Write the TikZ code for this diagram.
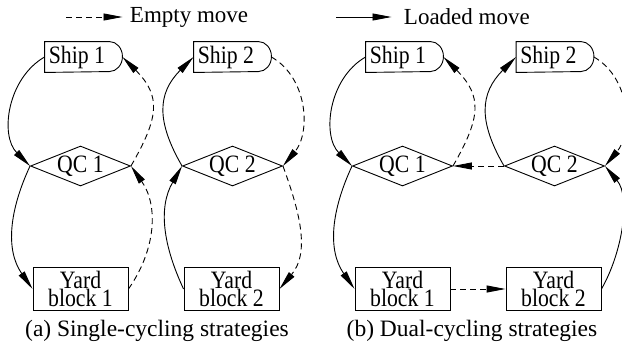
\documentclass[tikz,border=0pt]{standalone}
\usepackage{fontspec}
\setmainfont{Liberation Serif}
\newfontfamily\condfont[FakeStretch=0.87]{Liberation Serif}
\usetikzlibrary{shapes.geometric,arrows.meta}
\begin{document}
\begin{tikzpicture}[x=1pt,y=1pt,
  line width=0.9pt,
  tip/.style={-{Triangle[length=19pt,width=7pt]}},
  loaded/.style={tip},
  empty/.style={tip,dash pattern=on 6pt off 4pt},
  shipnode/.style={minimum width=64pt,minimum height=30pt,inner sep=0pt,font=\condfont\fontsize{25}{25}\selectfont},
  qcnode/.style={diamond,draw,minimum width=100pt,minimum height=40pt,inner sep=0pt,aspect=2.5,font=\condfont\fontsize{25}{25}\selectfont},
  yardnode/.style={rectangle,draw,minimum width=95pt,minimum height=43pt,inner sep=0pt,align=center,font=\condfont\fontsize{25}{16.5}\selectfont},
  legendtext/.style={anchor=west,inner sep=0pt,font=\fontsize{23}{23}\selectfont},
  caption/.style={inner sep=0pt,font=\fontsize{23.5}{23.5}\selectfont}
]
\useasboundingbox (0,0) rectangle (622,-354);

% ---------- legend ----------
\coordinate (leA) at (66,-17);
\node[legendtext] (leT) at (129.5,-17) {Empty move};
\draw[empty] (leA) -- ([xshift=-7pt]leT.west);
\coordinate (llA) at (336,-17);
\node[legendtext] (llT) at (403.5,-17) {Loaded move};
\draw[loaded] (llA) -- ([xshift=-12pt]llT.west);

% ---------- panel (a) ----------
\node[shipnode] (a1s) at (77,-57) {Ship 1};
\draw (a1s.north west) -- (a1s.north east) arc[start angle=90,end angle=-90,x radius=13pt,y radius=15pt] -- (a1s.south west) -- cycle;
\coordinate (a1se) at ([xshift=13pt]a1s.east);
\node[shipnode] (a2s) at (226,-57) {Ship 2};
\draw (a2s.north west) -- (a2s.north east) arc[start angle=90,end angle=-90,x radius=13pt,y radius=15pt] -- (a2s.south west) -- cycle;
\coordinate (a2se) at ([xshift=13pt]a2s.east);

\node[qcnode] (a1q) at (80.5,-166) {QC 1};
\node[qcnode] (a2q) at (232.5,-166) {QC 2};
\node[yardnode] (a1y) at (80.5,-289) {Yard\\block 1};
\node[yardnode] (a2y) at (231.5,-289) {Yard\\block 2};

\draw[loaded] (a1s.west) to[out=210,in=135] (a1q.west);
\draw[empty] (a1q.east) to[out=60,in=-45,looseness=1.3] (a1se);
\draw[loaded] (a1q.west) to[out=245,in=125] (a1y.west);
\draw[empty] (a1y.east) to[out=55,in=-55] (a1q.east);
\draw[loaded] (a2q.west) to[out=120,in=225,looseness=1.2] (a2s.west);
\draw[empty] (a2se) to[out=-30,in=50] (a2q.east);
\draw[empty] (a2q.east) to[out=-70,in=50] (a2y.east);
\draw[loaded] (a2y.west) to[out=115,in=-120] (a2q.west);

\node[caption] (capa) at (157,-331) {(a) Single-cycling strategies};

% ---------- panel (b) ----------
\node[shipnode] (b1s) at (398,-57) {Ship 1};
\draw (b1s.north west) -- (b1s.north east) arc[start angle=90,end angle=-90,x radius=13pt,y radius=15pt] -- (b1s.south west) -- cycle;
\coordinate (b1se) at ([xshift=13pt]b1s.east);
\node[shipnode] (b2s) at (548.5,-57) {Ship 2};
\draw (b2s.north west) -- (b2s.north east) arc[start angle=90,end angle=-90,x radius=13pt,y radius=15pt] -- (b2s.south west) -- cycle;
\coordinate (b2se) at ([xshift=13pt]b2s.east);

\node[qcnode] (b1q) at (402.5,-166) {QC 1};
\node[qcnode] (b2q) at (554.5,-166) {QC 2};
\node[yardnode] (b1y) at (402.5,-289) {Yard\\block 1};
\node[yardnode] (b2y) at (553.5,-289) {Yard\\block 2};

\draw[loaded] (b1s.west) to[out=210,in=135] (b1q.west);
\draw[empty] (b1q.east) to[out=60,in=-45,looseness=1.3] (b1se);
\draw[loaded] (b1q.west) to[out=245,in=125] (b1y.west);
\draw[empty] (b1y.east) -- (b2y.west);
\draw[empty] (b2q.west) -- (b1q.east);
\draw[loaded] (b2q.west) to[out=120,in=225,looseness=1.2] (b2s.west);
\draw[empty] (b2se) to[out=-30,in=50] (b2q.east);
\draw[loaded] (b2y.east) to[out=60,in=-50,looseness=0.85] (b2q.east);

\node[caption] (capb) at (472,-331) {(b) Dual-cycling strategies};
\end{tikzpicture}
\end{document}
